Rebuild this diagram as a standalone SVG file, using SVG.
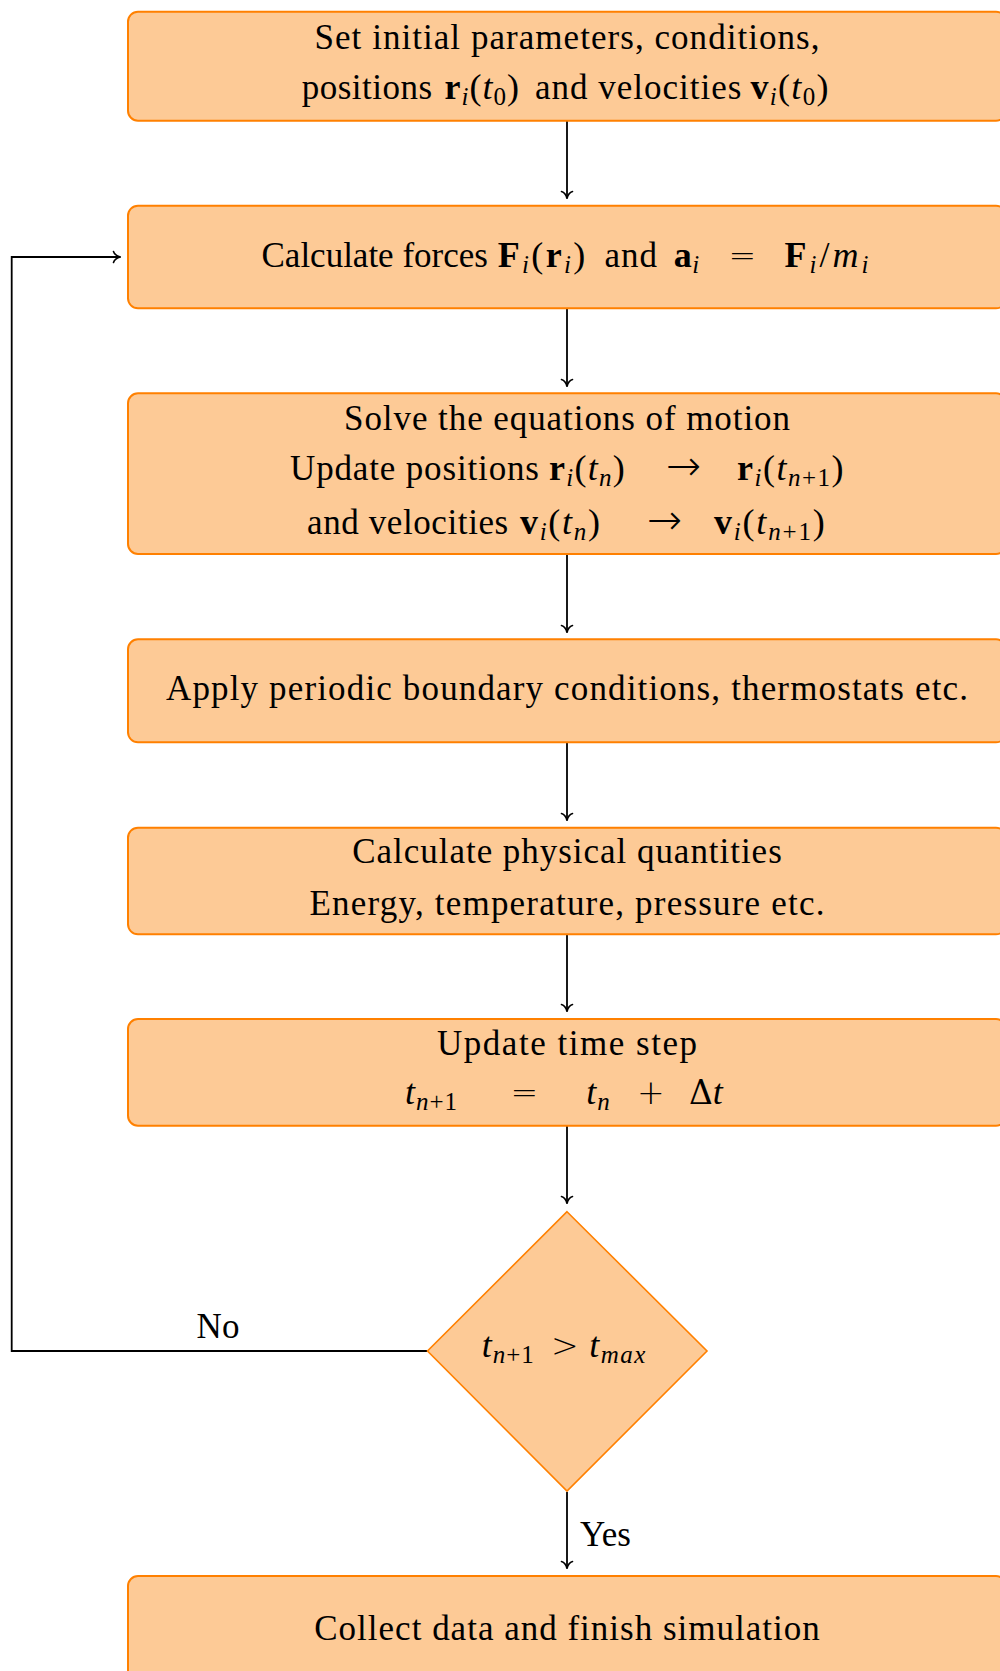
<svg xmlns="http://www.w3.org/2000/svg" width="1000" height="1671" viewBox="0 0 1000 1671">
<style>
.box{fill:#fdca96;stroke:#ff8000;stroke-width:2}
.dia{fill:#fdca96;stroke:#ff8000;stroke-width:1.6}
text{font-family:"Liberation Serif",serif;font-size:35px;fill:#000}
.c{text-anchor:middle}
.b{font-weight:bold}
.i{font-style:italic}
.m{font-size:36px}
.s{font-size:25px}
.op{font-family:"DejaVu Sans",sans-serif;font-size:33px;font-weight:200;font-style:normal}
.ar{font-family:"DejaVu Sans",sans-serif;font-size:42px;font-weight:200}
.dl{font-family:"DejaVu Serif",serif;font-size:33px}
.edge{fill:none;stroke:#000;stroke-width:1.8}
</style>
<defs>
<marker id="arr" markerUnits="userSpaceOnUse" viewBox="-10 -10 20 20" markerWidth="20" markerHeight="20" refX="0" refY="0" orient="auto" overflow="visible">
<path d="M-7,-5.5 C-6,-2 -2.5,-0.6 0,0 C-2.5,0.6 -6,2 -7,5.5" fill="none" stroke="#000" stroke-width="1.6" stroke-linecap="round"/>
</marker>
</defs>
<rect width="1000" height="1671" fill="#fff"/>
<g id="connectors">
<path class="edge" d="M567,121 V198.5" marker-end="url(#arr)"/>
<path class="edge" d="M567,308.5 V386.5" marker-end="url(#arr)"/>
<path class="edge" d="M567,554 V632.5" marker-end="url(#arr)"/>
<path class="edge" d="M567,742.5 V820.5" marker-end="url(#arr)"/>
<path class="edge" d="M567,934.5 V1011.5" marker-end="url(#arr)"/>
<path class="edge" d="M567,1126 V1203.5" marker-end="url(#arr)"/>
<path class="edge" d="M567,1492 V1568.5" marker-end="url(#arr)"/>
<path class="edge" d="M427.5,1351 H11.7 V257 H120.5" marker-end="url(#arr)"/>
<text x="218" y="1338" class="c">No</text>
<text x="580" y="1545.5">Yes</text>
</g>
<g id="init">
<rect class="box" x="128" y="11.7" width="878" height="109" rx="10"/>
<text x="567" y="48.5" class="c" textLength="505" lengthAdjust="spacing">Set initial parameters, conditions,</text>
<text y="99.3"><tspan x="301.7" letter-spacing="0.5">positions</tspan><tspan x="444.5" class="m" letter-spacing="1"><tspan class="b">r</tspan><tspan class="i s" dy="6">i</tspan><tspan dy="-6">(</tspan><tspan class="i">t</tspan><tspan class="s" dy="6">0</tspan><tspan dy="-6">)</tspan></tspan><tspan x="535" letter-spacing="1">and velocities</tspan><tspan x="750.5" class="m" letter-spacing="1.3"><tspan class="b">v</tspan><tspan class="i s" dy="6">i</tspan><tspan dy="-6">(</tspan><tspan class="i">t</tspan><tspan class="s" dy="6">0</tspan><tspan dy="-6">)</tspan></tspan></text>
</g>
<g id="forces">
<rect class="box" x="128" y="205.7" width="878" height="102.6" rx="10"/>
<text y="266.7"><tspan x="261.5">Calculate forces</tspan><tspan x="497.8" class="m" letter-spacing="2.3"><tspan class="b">F</tspan><tspan class="i s" dy="6">i</tspan><tspan dy="-6">(</tspan><tspan class="b">r</tspan><tspan class="i s" dy="6">i</tspan><tspan dy="-6">)</tspan></tspan><tspan x="604.4" letter-spacing="1">and</tspan><tspan x="673.7" class="m" letter-spacing="0.5"><tspan class="b">a</tspan><tspan class="i s" dy="6">i</tspan></tspan><tspan x="728.5" dy="-6" class="op">=</tspan><tspan x="784.6" class="m" letter-spacing="3"><tspan class="b">F</tspan><tspan class="i s" dy="6">i</tspan><tspan dy="-6">/</tspan><tspan class="i">m</tspan><tspan class="i s" dy="6">i</tspan></tspan></text>
</g>
<g id="motion">
<rect class="box" x="128" y="393.3" width="878" height="160.7" rx="10"/>
<text x="567" y="429.5" class="c" textLength="446" lengthAdjust="spacing">Solve the equations of motion</text>
<text y="480"><tspan x="290" letter-spacing="0.85">Update positions</tspan><tspan x="549" class="m" letter-spacing="1.25"><tspan class="b">r</tspan><tspan class="i s" dy="6">i</tspan><tspan dy="-6">(</tspan><tspan class="i">t</tspan><tspan class="i s" dy="6">n</tspan><tspan dy="-6">)</tspan></tspan><tspan x="666" class="ar">→</tspan><tspan x="737" class="m" letter-spacing="1.5"><tspan class="b">r</tspan><tspan class="i s" dy="6">i</tspan><tspan dy="-6">(</tspan><tspan class="i">t</tspan><tspan class="i s" dy="6">n</tspan><tspan class="s">+1</tspan><tspan dy="-6">)</tspan></tspan></text>
<text y="533.5"><tspan x="307" letter-spacing="0.6">and velocities</tspan><tspan x="520" class="m" letter-spacing="1.7"><tspan class="b">v</tspan><tspan class="i s" dy="6">i</tspan><tspan dy="-6">(</tspan><tspan class="i">t</tspan><tspan class="i s" dy="6">n</tspan><tspan dy="-6">)</tspan></tspan><tspan x="647" class="ar">→</tspan><tspan x="714" class="m" letter-spacing="1.8"><tspan class="b">v</tspan><tspan class="i s" dy="6">i</tspan><tspan dy="-6">(</tspan><tspan class="i">t</tspan><tspan class="i s" dy="6">n</tspan><tspan class="s">+1</tspan><tspan dy="-6">)</tspan></tspan></text>
</g>
<g id="boundary">
<rect class="box" x="128" y="639.3" width="878" height="103" rx="10"/>
<text x="567" y="699.5" class="c" textLength="802" lengthAdjust="spacing">Apply periodic boundary conditions, thermostats etc.</text>
</g>
<g id="quantities">
<rect class="box" x="128" y="827.7" width="878" height="106.6" rx="10"/>
<text x="567" y="862.5" class="c" textLength="429.5" lengthAdjust="spacing">Calculate physical quantities</text>
<text x="567" y="915" class="c" textLength="515" lengthAdjust="spacing">Energy, temperature, pressure etc.</text>
</g>
<g id="timestep">
<rect class="box" x="128" y="1019" width="878" height="106.7" rx="10"/>
<text x="567" y="1055" class="c" textLength="260" lengthAdjust="spacing">Update time step</text>
<text y="1103.5" class="m"><tspan x="405" letter-spacing="1"><tspan class="i">t</tspan><tspan class="i s" dy="6">n</tspan><tspan class="s">+1</tspan></tspan><tspan x="510.5" dy="-6" class="op">=</tspan><tspan x="586.3" letter-spacing="1"><tspan class="i">t</tspan><tspan class="i s" dy="6">n</tspan></tspan><tspan x="637" dy="-6" class="op">+</tspan><tspan x="689" class="dl">Δ</tspan><tspan class="i">t</tspan></text>
</g>
<g id="decision">
<polygon class="dia" points="567,1211.7 707,1351 567,1491 427.5,1351"/>
<text y="1356.5" class="m"><tspan x="481.7" letter-spacing="1"><tspan class="i">t</tspan><tspan class="i s" dy="6">n</tspan><tspan class="s">+1</tspan></tspan><tspan x="551" dy="-6" class="op">&gt;</tspan><tspan x="589.3" letter-spacing="1.5"><tspan class="i">t</tspan><tspan class="i s" dy="6">max</tspan></tspan></text>
</g>
<g id="finish">
<rect class="box" x="128" y="1576" width="878" height="104" rx="10"/>
<text x="567" y="1640" class="c" textLength="505.5" lengthAdjust="spacing">Collect data and finish simulation</text>
</g>
</svg>
